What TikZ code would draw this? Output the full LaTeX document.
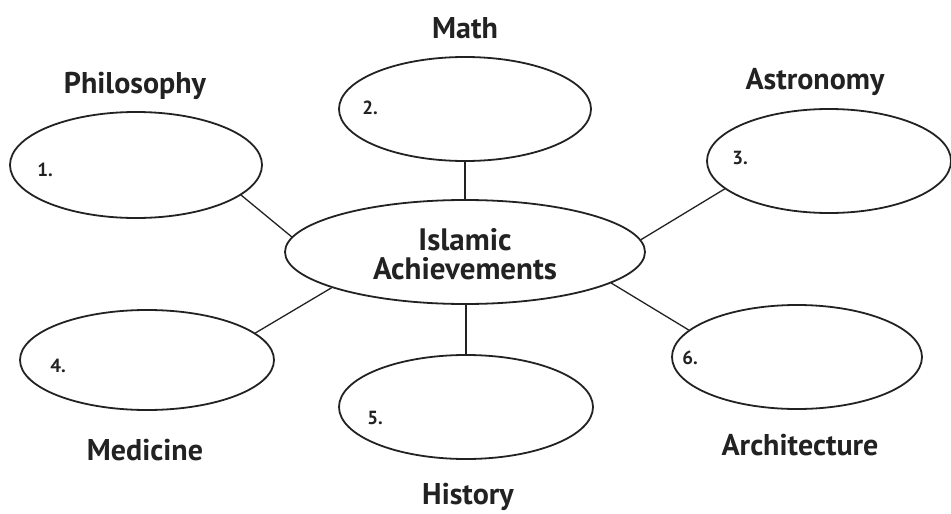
\documentclass[tikz,border=0pt]{standalone}
\usepackage{fontspec}
\setmainfont{PT Sans}
\usetikzlibrary{shapes.geometric}
\definecolor{ink}{HTML}{222222}
\begin{document}
\begin{tikzpicture}[x=1pt,y=-1pt,
  bub/.style={ellipse,draw=ink,line width=1.8pt,inner sep=0pt},
  lbl/.style={font=\bfseries\fontsize{30}{32}\selectfont,text=ink,inner sep=0pt},
  num/.style={font=\bfseries\fontsize{19}{20}\selectfont,text=ink,inner sep=0pt},
  link/.style={draw=ink,line width=1.3pt}]
\useasboundingbox (0,0) rectangle (951,514);
\node[bub,minimum width=360pt,minimum height=104pt] (c) at (465,252) {};
\node[lbl,align=center,font=\bfseries\fontsize{31}{29}\selectfont] (ct) at (465,254) {Islamic\\Achievements};
\node[bub,minimum width=252pt,minimum height=104pt] (math) at (465,109) {};
\node[bub,minimum width=252pt,minimum height=106pt] (phil) at (136,165) {};
\node[bub,minimum width=244pt,minimum height=104pt] (astr) at (829,161) {};
\node[bub,minimum width=254pt,minimum height=100pt] (med) at (147,360) {};
\node[bub,minimum width=254pt,minimum height=104pt] (hist) at (466,407) {};
\node[bub,minimum width=250pt,minimum height=104pt] (arch) at (797,357) {};
\node[lbl] (mathL) at (465,28) {Math};
\node[lbl] (philL) at (135,86) {Philosophy};
\node[lbl] (astrL) at (815,82) {Astronomy};
\node[lbl] (medL) at (145,450) {Medicine};
\node[lbl] (histL) at (468,497) {History};
\node[lbl] (archL) at (800,445) {Architecture};
\node[num] (n1) at (45,170) {1.};
\node[num] (n2) at (370,108) {2.};
\node[num] (n3) at (740,158) {3.};
\node[num] (n4) at (58,366) {4.};
\node[num] (n5) at (375,418) {5.};
\node[num] (n6) at (690,358) {6.};
\draw[link] (math.south) -- (c.north);
\draw[link] (hist.north) -- (hist.north |- c.south);
\draw[link] (phil.-16) -- (c.175);
\draw[link] (astr.-165) -- (c.4);
\draw[link] (med.14) -- (c.195);
\draw[link] (arch.166) -- (c.-12);
\end{tikzpicture}
\end{document}
